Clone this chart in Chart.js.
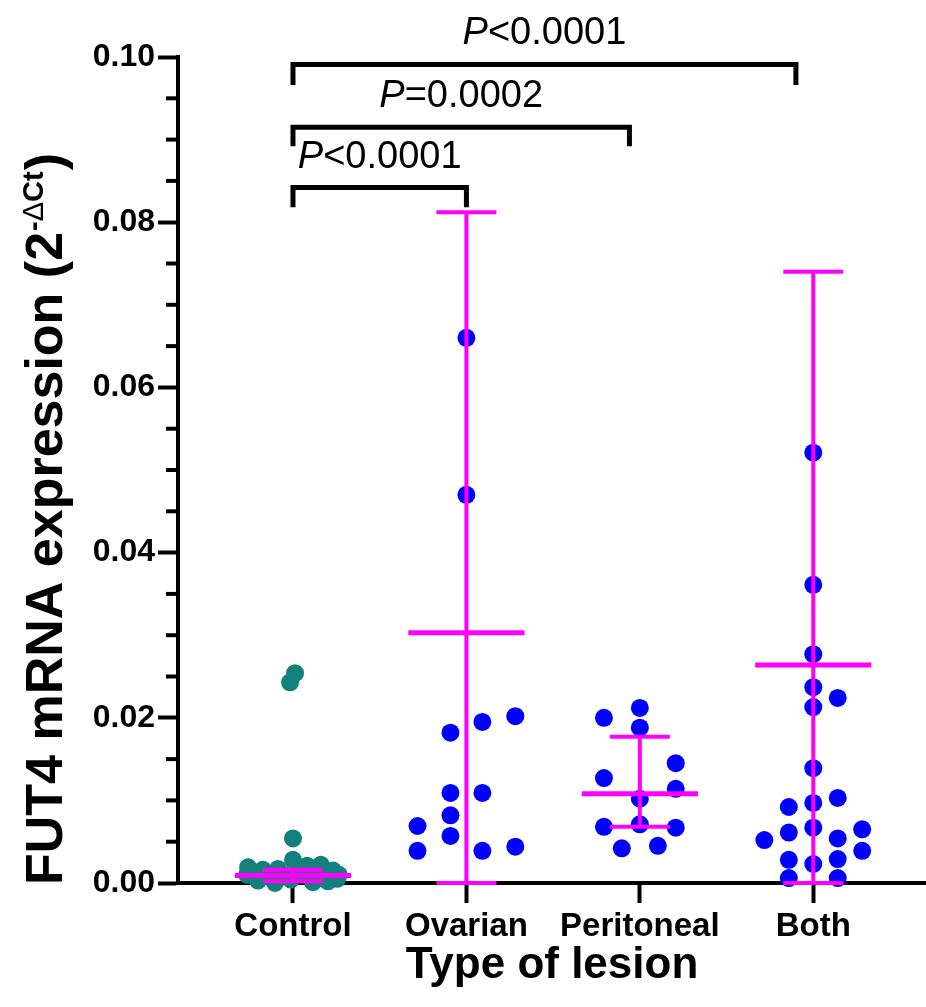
<!DOCTYPE html>
<html>
<head>
<meta charset="utf-8">
<script src="https://cdn.jsdelivr.net/npm/chart.js@4.4.1/dist/chart.umd.min.js"></script>
<style>
html,body{margin:0;padding:0;background:#fff;overflow:hidden;}
#wrap{width:926px;height:1007px;}
#c{display:block;}
</style>
</head>
<body>
<div id="wrap"><canvas id="c" width="926" height="1007"></canvas></div>
<script>
// ---------- data ----------
const categories = ['Control', 'Ovarian', 'Peritoneal', 'Both'];

const controlValues = [0.0254, 0.0243, 0.0054, 0.0028, 0.0019, 0.0016, 0.0021, 0.0022, 0.0015, 0.0017, 0.0010,
                       0.0009, 0.0011, 0.0010, 0.0012, 0.0007, 0.0003, 0.0000, 0.0001, 0.0002, 0.0004, 0.0005];
const controlJitter = [0.012, -0.017, 0, 0, -0.259, -0.173, 0.081, 0.161, 0.231, -0.086, -0.265,
                       -0.046, 0.046, 0.265, 0.127, -0.127, -0.202, -0.104, 0.115, 0.202, -0.012, 0.255];

const ovarianValues = [0.0660, 0.0470, 0.0202, 0.0195, 0.0182, 0.0109, 0.0109, 0.0082, 0.0069, 0.0057, 0.0039, 0.0039, 0.0044];
const ovarianJitter = [0, 0, 0.282, 0.092, -0.092, -0.092, 0.092, -0.092, -0.282, -0.092, -0.282, 0.092, 0.282];

const peritonealValues = [0.0212, 0.0200, 0.0188, 0.0145, 0.0127, 0.0114, 0.0102, 0.0068, 0.0071, 0.0067, 0.0042, 0.0045];
const peritonealJitter = [0, -0.207, 0, 0.207, -0.207, 0.207, 0, -0.207, 0, 0.207, -0.104, 0.104];

const bothValues = [0.0521, 0.0361, 0.0277, 0.0237, 0.0224, 0.0213, 0.0139, 0.0092, 0.0097, 0.0103, 0.0052,
                    0.0061, 0.0067, 0.0054, 0.0065, 0.0039, 0.0028, 0.0023, 0.0029, 0.0006, 0.0006];
const bothJitter = [0, 0, 0, 0, 0.141, 0, 0, -0.141, 0, 0.141, -0.282,
                    -0.141, 0, 0.141, 0.282, 0.282, -0.141, 0, 0.141, -0.141, 0.141];

// mean and error bar ends per group
const groupMean  = [0.0009, 0.0303, 0.0108, 0.0264];
const groupUpper = [0.0016, 0.0812, 0.0177, 0.0740];
const groupLower = [0.0002, 0.0000, 0.0068, 0.0000];

// significance brackets
const bracketText  = ['<0.0001', '=0.0002', '<0.0001'];
const bracketFrom  = [0, 0, 0];
const bracketTo    = [1, 1.94, 2.9];
const bracketLevel = [0.0842, 0.0915, 0.0991];
const bracketFoot  = [0.0818, 0.0892, 0.0966];

const xTitle = 'Type of lesion';
const yTitleMain = 'FUT4 mRNA expression (2';
const yTitleSupMinus = '-';
const yTitleSupDelta = 'Δ';
const yTitleSupCt = 'Ct';
const yTitleEnd = ')';

// ---------- drawing ----------
const FAMILY = "'Liberation Sans', Arial, Helvetica, sans-serif";
const MAGENTA = '#ff00ff';
const CAP_HALF = 0.173;
const MEAN_HALF = 0.335;

function mk(values, jitter, gi, color) {
  return {
    data: values.map((v, i) => ({x: gi + jitter[i], y: v})),
    backgroundColor: color,
    borderWidth: 0,
    pointRadius: 9,
    pointHoverRadius: 9,
    showLine: false,
    clip: false
  };
}

function seg(ctx, x1, y1, x2, y2) {
  ctx.beginPath(); ctx.moveTo(x1, y1); ctx.lineTo(x2, y2); ctx.stroke();
}

const errorBarPlugin = {
  id: 'errorBars',
  afterDatasetsDraw(chart) {
    const {ctx} = chart; const x = chart.scales.x, y = chart.scales.y;
    ctx.save();
    ctx.strokeStyle = MAGENTA;
    groupMean.forEach((m, i) => {
      const px = x.getPixelForValue(i);
      const yU = y.getPixelForValue(groupUpper[i]);
      const yL = y.getPixelForValue(groupLower[i]);
      const yM = y.getPixelForValue(m);
      ctx.lineWidth = 4;
      seg(ctx, px, yU, px, yL);
      [yU, yL].forEach(yy => seg(ctx, x.getPixelForValue(i - CAP_HALF), yy, x.getPixelForValue(i + CAP_HALF), yy));
      ctx.lineWidth = 5;
      seg(ctx, x.getPixelForValue(i - MEAN_HALF), yM, x.getPixelForValue(i + MEAN_HALF), yM);
    });
    ctx.restore();
  }
};

const decorPlugin = {
  id: 'decor',
  afterDraw(chart) {
    const {ctx} = chart; const x = chart.scales.x, y = chart.scales.y;
    ctx.save();
    // minor ticks on y axis
    ctx.strokeStyle = '#000'; ctx.lineWidth = 4;
    for (let k = 1; k < 20; k++) {
      if (k % 4 === 0) continue;
      const py = y.getPixelForValue(k * 0.005);
      seg(ctx, y.right - 12, py, y.right, py);
    }
    // brackets
    ctx.lineWidth = 5; ctx.lineJoin = 'miter'; ctx.lineCap = 'butt';
    bracketText.forEach((t, i) => {
      const x1 = x.getPixelForValue(bracketFrom[i]);
      const x2 = x.getPixelForValue(bracketTo[i]);
      const yl = y.getPixelForValue(bracketLevel[i]);
      const yf = y.getPixelForValue(bracketFoot[i]);
      ctx.beginPath();
      ctx.moveTo(x1, yf); ctx.lineTo(x1, yl); ctx.lineTo(x2, yl); ctx.lineTo(x2, yf);
      ctx.stroke();
      ctx.fillStyle = '#000';
      ctx.textBaseline = 'alphabetic'; ctx.textAlign = 'left';
      ctx.font = 'italic 38px ' + FAMILY;
      const wP = ctx.measureText('P').width;
      ctx.font = '38px ' + FAMILY;
      const wR = ctx.measureText(t).width;
      const start = (x1 + x2) / 2 - (wP + wR) / 2;
      const by = yl - 20;
      ctx.font = 'italic 38px ' + FAMILY;
      ctx.fillText('P', start, by);
      ctx.font = '38px ' + FAMILY;
      ctx.fillText(t, start + wP, by);
    });
    // y title with superscript
    ctx.translate(62, 0);
    ctx.rotate(-Math.PI / 2);
    ctx.fillStyle = '#000'; ctx.textBaseline = 'alphabetic'; ctx.textAlign = 'left';
    const fMain = 'bold 52px ' + FAMILY, fSupB = 'bold 29px ' + FAMILY, fSupR = '29px ' + FAMILY;
    ctx.font = fMain; const w1 = ctx.measureText(yTitleMain).width; const w5 = ctx.measureText(yTitleEnd).width;
    ctx.font = fSupB; const w2 = ctx.measureText(yTitleSupMinus).width; const w4 = ctx.measureText(yTitleSupCt).width;
    ctx.font = fSupR; const w3 = ctx.measureText(yTitleSupDelta).width;
    const total = w1 + w2 + w3 + w4 + w5 + 2;
    const centerY = 519;
    let s = -(centerY + total / 2);
    ctx.font = fMain; ctx.fillText(yTitleMain, s, 0); s += w1 + 1;
    ctx.font = fSupB; ctx.fillText(yTitleSupMinus, s, -19); s += w2;
    ctx.font = fSupR; ctx.fillText(yTitleSupDelta, s, -19); s += w3;
    ctx.font = fSupB; ctx.fillText(yTitleSupCt, s, -19); s += w4 + 1;
    ctx.font = fMain; ctx.fillText(yTitleEnd, s, 0);
    ctx.restore();
  }
};

new Chart(document.getElementById('c'), {
  type: 'scatter',
  data: {
    datasets: [
      mk(controlValues, controlJitter, 0, '#13807b'),
      mk(ovarianValues, ovarianJitter, 1, '#0000ff'),
      mk(peritonealValues, peritonealJitter, 2, '#0000ff'),
      mk(bothValues, bothJitter, 3, '#0000ff')
    ]
  },
  options: {
    responsive: false,
    animation: false,
    devicePixelRatio: 1,
    layout: {autoPadding: false, padding: {top: 57, left: 0, right: 0, bottom: 0}},
    plugins: {legend: {display: false}, tooltip: {enabled: false}},
    scales: {
      x: {
        type: 'linear', min: -0.663, max: 3.65,
        afterBuildTicks: s => { s.ticks = categories.map((c, i) => ({value: i})); },
        afterFit: s => { s.height = 124; s.paddingLeft = 0; s.paddingRight = 0; },
        grid: {display: true, drawOnChartArea: false, drawTicks: true, tickLength: 20, tickWidth: 4, tickColor: '#000'},
        border: {display: true, color: '#000', width: 4},
        ticks: {
          color: '#000', padding: 4, maxRotation: 0, autoSkip: false,
          font: {family: FAMILY, size: 33, weight: 'bold'},
          callback: v => categories[v] ?? ''
        },
        title: {display: true, text: xTitle, color: '#000',
                font: {family: FAMILY, size: 44, weight: 'bold'}, padding: {top: 0, bottom: 15}}
      },
      y: {
        type: 'linear', min: 0, max: 0.1,
        afterFit: s => { s.width = 178; },
        grid: {display: true, drawOnChartArea: false, drawTicks: true, tickLength: 20, tickWidth: 4, tickColor: '#000'},
        border: {display: true, color: '#000', width: 4},
        ticks: {
          stepSize: 0.02, color: '#000', padding: 3,
          font: {family: FAMILY, size: 32, weight: 'bold'},
          callback: v => Number(v).toFixed(2)
        }
      }
    }
  },
  plugins: [errorBarPlugin, decorPlugin]
});
</script>
</body>
</html>
